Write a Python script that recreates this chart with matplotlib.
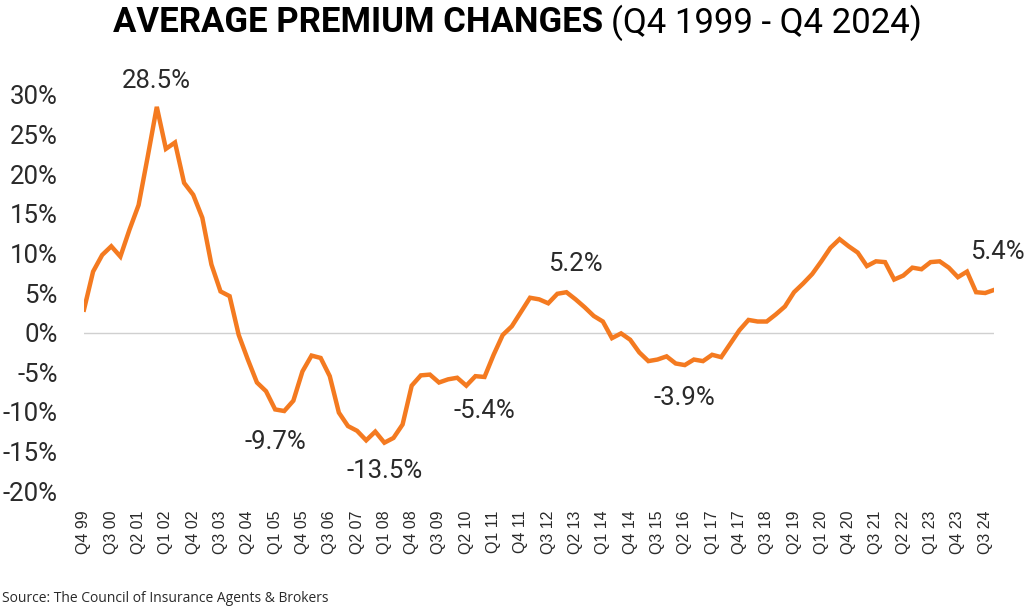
import matplotlib
matplotlib.use("Agg")
import matplotlib.pyplot as plt
import numpy as np

# quarterly average premium change, Q4 1999 .. Q4 2024 (%)
changes = [
    2.9, 7.7, 9.8, 10.9, 9.6, 13.0, 16.1, 22.2, 28.5, 23.2,
    24.0, 18.9, 17.4, 14.5, 8.6, 5.2, 4.6, -0.3, -3.4, -6.3,
    -7.4, -9.7, -9.9, -8.6, -4.9, -2.9, -3.2, -5.5, -10.1, -11.8,
    -12.4, -13.6, -12.5, -13.9, -13.3, -11.6, -6.7, -5.4, -5.3, -6.3,
    -5.9, -5.7, -6.7, -5.5, -5.6, -2.8, -0.3, 0.8, 2.6, 4.4,
    4.2, 3.7, 4.9, 5.1, 4.2, 3.2, 2.1, 1.4, -0.7, -0.1,
    -0.9, -2.5, -3.6, -3.4, -3.0, -3.9, -4.1, -3.4, -3.6, -2.8,
    -3.1, -1.4, 0.3, 1.6, 1.4, 1.4, 2.3, 3.3, 5.1, 6.2,
    7.4, 9.0, 10.7, 11.8, 10.9, 10.1, 8.4, 9.0, 8.9, 6.7,
    7.2, 8.2, 8.0, 8.9, 9.0, 8.2, 7.0, 7.7, 5.1, 5.0,
    5.4,
]

# quarter labels
quarters = []
q, yr = 4, 1999
for _ in range(len(changes)):
    quarters.append("Q%d %02d" % (q, yr % 100))
    q += 1
    if q > 4:
        q = 1
        yr += 1

callouts = [(8, "28.5%"), (21, "-9.7%"), (33, "-13.5%"), (44, "-5.4%"),
            (53, "5.2%"), (66, "-3.9%"), (100, "5.4%")]
callout_offsets = [(0, 1.8), (0, -2.6), (0, -2.0), (0, -2.8), (1, 2.1), (0, -2.6), (0.3, 3.2)]

line_color = "#F47A20"
text_color = "#2a2a2a"

fig = plt.figure(figsize=(10.24, 6.14), dpi=100)
ax = fig.add_axes([0.082, 0.2003, 0.889, 0.6450])

x = np.arange(len(changes))
ax.plot(x, changes, color=line_color, linewidth=3.2, solid_joinstyle="miter", zorder=3)
ax.axhline(0, color="#d0d0d0", linewidth=1.0, zorder=1)

ax.set_xlim(0, len(changes) - 1)
ax.set_ylim(-20, 30)
ax.set_yticks(np.arange(-20, 31, 5))
ax.set_yticklabels(["%d%%" % v for v in range(-20, 31, 5)],
                   fontfamily="Roboto", fontsize=18.5, color=text_color)
ax.set_xticks(x[::3])
ax.set_xticklabels(quarters[::3], rotation=90, fontfamily="Liberation Sans",
                   fontsize=11.5, color=text_color)
ax.tick_params(axis="y", length=0, pad=19)
ax.tick_params(axis="x", length=0, pad=14)
for s in ax.spines.values():
    s.set_visible(False)

for (i, label), (dx, dy) in zip(callouts, callout_offsets):
    base = "bottom" if dy > 0 else "top"
    ax.text(i + dx, changes[i] + dy, label, ha="center", va=base,
            fontfamily="Roboto", fontsize=18.5, color=text_color)

fig.text(0.589, 0.963, "AVERAGE PREMIUM CHANGES", ha="right", va="center",
         fontfamily="Roboto", fontweight="bold", fontsize=25, color="black")
fig.text(0.597, 0.963, "(Q4 1999 - Q4 2024)", ha="left", va="center",
         fontfamily="Roboto", fontsize=25, color="black")
fig.text(0.002, 0.025, "Source: The Council of Insurance Agents & Brokers", ha="left",
         va="center", fontfamily="Open Sans", fontsize=10, color=text_color)

fig.savefig("out.png", dpi=100)
